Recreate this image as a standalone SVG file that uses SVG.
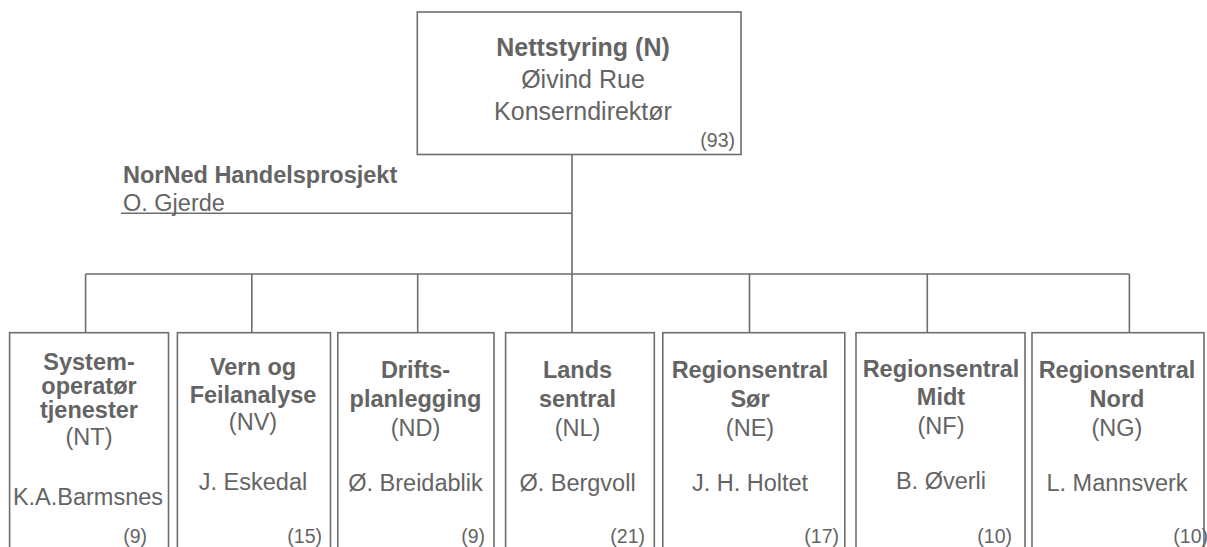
<svg xmlns="http://www.w3.org/2000/svg" width="1207" height="547" viewBox="0 0 1207 547">
<style>
.box{fill:#fff;stroke:#6e6e6e;stroke-width:1.6}
.ln{fill:none;stroke:#6e6e6e;stroke-width:1.6}
text{font-family:"Liberation Sans",Arial,sans-serif;fill:#646464}
.t{font-size:25px;text-anchor:middle}
.h{font-size:23.5px;text-anchor:middle}
.b{font-weight:bold}
.n{font-size:19.5px;text-anchor:end}
.p{font-size:23.5px}
</style>
<rect width="1207" height="547" fill="#fff"/>
<g id="connectors">
<path class="ln" d="M572 155V274M121 213.3H572M85.6 274H1129.4M85.6 274V332M251.8 274V332M417.7 274V332M572 274V332M749.5 274V332M927.3 274V332M1129.4 274V332"/>
</g>
<g id="n-root">
<rect class="box" x="417.3" y="12" width="323.7" height="142.5"/>
<text class="t b" x="583" y="56">Nettstyring (N)</text>
<text class="t" x="583" y="88">Øivind Rue</text>
<text class="t" x="583" y="120">Konserndirektør</text>
<text class="n" x="735" y="147">(93)</text>
</g>
<g id="n-norned">
<text class="p b" x="123" y="183">NorNed Handelsprosjekt</text>
<text class="p" x="123" y="211">O. Gjerde</text>
</g>
<g id="n-nt">
<rect class="box" x="9.6" y="332.7" width="158.9" height="230"/>
<text class="h b" x="89" y="370">System-</text>
<text class="h b" x="89" y="394">operatør</text>
<text class="h b" x="89" y="418">tjenester</text>
<text class="h" x="89" y="445">(NT)</text>
<text class="h" x="88" y="505">K.A.Barmsnes</text>
<text class="n" x="147" y="543">(9)</text>
</g>
<g id="n-nv">
<rect class="box" x="177.4" y="332.7" width="153.1" height="230"/>
<text class="h b" x="253" y="375">Vern og</text>
<text class="h b" x="253" y="403">Feilanalyse</text>
<text class="h" x="253" y="430">(NV)</text>
<text class="h" x="253" y="490">J. Eskedal</text>
<text class="n" x="322" y="543">(15)</text>
</g>
<g id="n-nd">
<rect class="box" x="337.8" y="332.7" width="156.2" height="230"/>
<text class="h b" x="415.5" y="378">Drifts-</text>
<text class="h b" x="415.5" y="407">planlegging</text>
<text class="h" x="415.5" y="436">(ND)</text>
<text class="h" x="415.5" y="491">Ø. Breidablik</text>
<text class="n" x="485" y="543">(9)</text>
</g>
<g id="n-nl">
<rect class="box" x="505.6" y="332.7" width="148.7" height="230"/>
<text class="h b" x="577.5" y="378">Lands</text>
<text class="h b" x="577.5" y="407">sentral</text>
<text class="h" x="577.5" y="436">(NL)</text>
<text class="h" x="577.5" y="491">Ø. Bergvoll</text>
<text class="n" x="645" y="543">(21)</text>
</g>
<g id="n-ne">
<rect class="box" x="662.8" y="332.7" width="182" height="230"/>
<text class="h b" x="750" y="378">Regionsentral</text>
<text class="h b" x="750" y="407">Sør</text>
<text class="h" x="750" y="436">(NE)</text>
<text class="h" x="750" y="491">J. H. Holtet</text>
<text class="n" x="839" y="543">(17)</text>
</g>
<g id="n-nf">
<rect class="box" x="856" y="332.7" width="169" height="230"/>
<text class="h b" x="941" y="377">Regionsentral</text>
<text class="h b" x="941" y="405">Midt</text>
<text class="h" x="941" y="434">(NF)</text>
<text class="h" x="941" y="489">B. Øverli</text>
<text class="n" x="1012" y="543">(10)</text>
</g>
<g id="n-ng">
<rect class="box" x="1032" y="332.7" width="172" height="230"/>
<text class="h b" x="1117" y="378">Regionsentral</text>
<text class="h b" x="1117" y="407">Nord</text>
<text class="h" x="1117" y="436">(NG)</text>
<text class="h" x="1117" y="491">L. Mannsverk</text>
<text class="n" x="1208" y="543">(10)</text>
</g>
</svg>
